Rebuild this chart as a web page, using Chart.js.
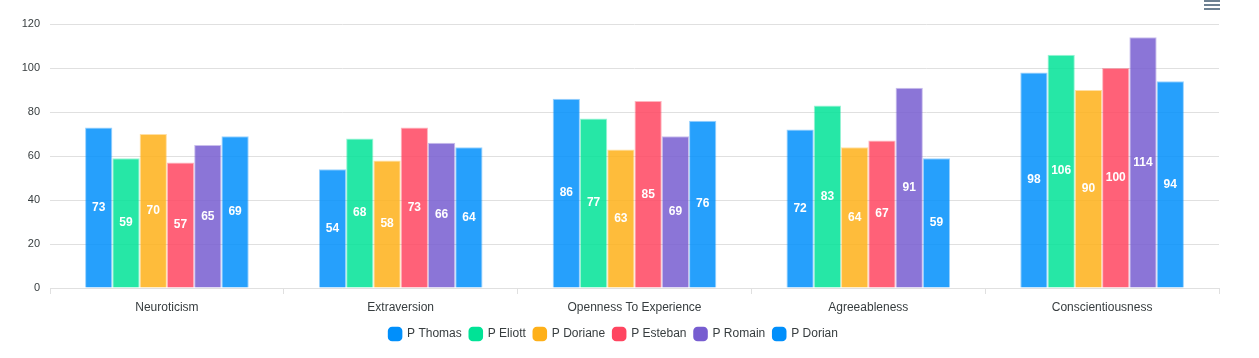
<!DOCTYPE html>
<html>
<head>
<meta charset="utf-8">
<script src="https://cdn.jsdelivr.net/npm/chart.js@4/dist/chart.umd.min.js"></script>
<style>
  html, body { margin: 0; padding: 0; background: #fff; }
  #wrap { position: relative; width: 1259px; height: 358px; }
  /* toolbar menu icon, top right */
  .menu { position: absolute; left: 1204px; top: -2px; width: 16px; }
  .menu span { display: block; height: 2px; background: #6e8192; margin-top: 2px; }
</style>
</head>
<body>
<div id="wrap">
  <canvas id="chart" width="1259" height="358"></canvas>
  <div class="menu"><span></span><span></span><span></span></div>
</div>
<script>
// categories and series
const categories = ['Neuroticism', 'Extraversion', 'Openness To Experience', 'Agreeableness', 'Conscientiousness'];
const seriesNames = ['P Thomas', 'P Eliott', 'P Doriane', 'P Esteban', 'P Romain', 'P Dorian'];
const thomas  = [73, 54, 86, 72, 98];
const eliott  = [59, 68, 77, 83, 106];
const doriane = [70, 58, 63, 64, 90];
const esteban = [57, 73, 85, 67, 100];
const romain  = [65, 66, 69, 91, 114];
const dorian  = [69, 64, 76, 59, 94];
const yTicks = [0, 20, 40, 60, 80, 100, 120];

const palette = ['#008FFB', '#00E396', '#FEB019', '#FF4560', '#775DD0', '#008FFB'];
const allValues = [thomas, eliott, doriane, esteban, romain, dorian];

function alpha(hex, a) {
  const n = parseInt(hex.slice(1), 16);
  return 'rgba(' + (n >> 16) + ',' + ((n >> 8) & 255) + ',' + (n & 255) + ',' + a + ')';
}

// white value labels in the middle of each bar
const centerLabels = {
  id: 'centerLabels',
  afterDatasetsDraw(chart) {
    const ctx = chart.ctx;
    ctx.save();
    ctx.font = 'bold 12px Helvetica, Arial, sans-serif';
    ctx.fillStyle = '#fff';
    ctx.textAlign = 'center';
    ctx.textBaseline = 'middle';
    chart.data.datasets.forEach((ds, i) => {
      const meta = chart.getDatasetMeta(i);
      if (meta.hidden) return;
      meta.data.forEach((bar, j) => {
        ctx.fillText(ds.data[j], bar.x, (bar.y + bar.base) / 2);
      });
    });
    ctx.restore();
  }
};

new Chart(document.getElementById('chart'), {
  type: 'bar',
  data: {
    labels: categories,
    datasets: seriesNames.map((name, i) => ({
      label: name,
      data: allValues[i],
      backgroundColor: alpha(palette[i], 0.85),
      borderColor: alpha(palette[i], 0.4),
      borderWidth: 1,
      categoryPercentage: 0.7,
      barPercentage: 1.0
    }))
  },
  options: {
    responsive: false,
    animation: false,
    layout: { padding: { left: 8, right: 40, top: 24, bottom: 8 } },
    plugins: {
      tooltip: { enabled: false },
      legend: {
        position: 'bottom',
        labels: {
          usePointStyle: true,
          pointStyle: 'rectRounded',
          boxWidth: 12,
          boxHeight: 12,
          padding: 8,
          color: '#373d3f',
          font: { family: 'Helvetica, Arial, sans-serif', size: 12 },
          generateLabels(chart) {
            return chart.data.datasets.map((ds, i) => ({
              text: ds.label,
              fillStyle: palette[i],
              strokeStyle: palette[i],
              lineWidth: 0,
              pointStyle: 'rectRounded',
              datasetIndex: i,
              fontColor: '#373d3f'
            }));
          }
        }
      }
    },
    scales: {
      x: {
        grid: { display: true, offset: true, drawOnChartArea: false, color: '#e0e0e0', tickLength: 6 },
        border: { color: '#e0e0e0' },
        ticks: { color: '#373d3f', font: { family: 'Helvetica, Arial, sans-serif', size: 12 }, padding: 6 },
        afterFit(s) { s.height = 32; }
      },
      y: {
        min: 0,
        max: 120,
        afterBuildTicks(s) { s.ticks = yTicks.map(v => ({ value: v })); },
        grid: { color: '#e0e0e0', drawTicks: false },
        border: { display: false },
        ticks: { color: '#373d3f', font: { family: 'Helvetica, Arial, sans-serif', size: 11 }, padding: 10 },
        afterFit(s) { s.width = 42; }
      }
    }
  },
  plugins: [centerLabels]
});
</script>
</body>
</html>
